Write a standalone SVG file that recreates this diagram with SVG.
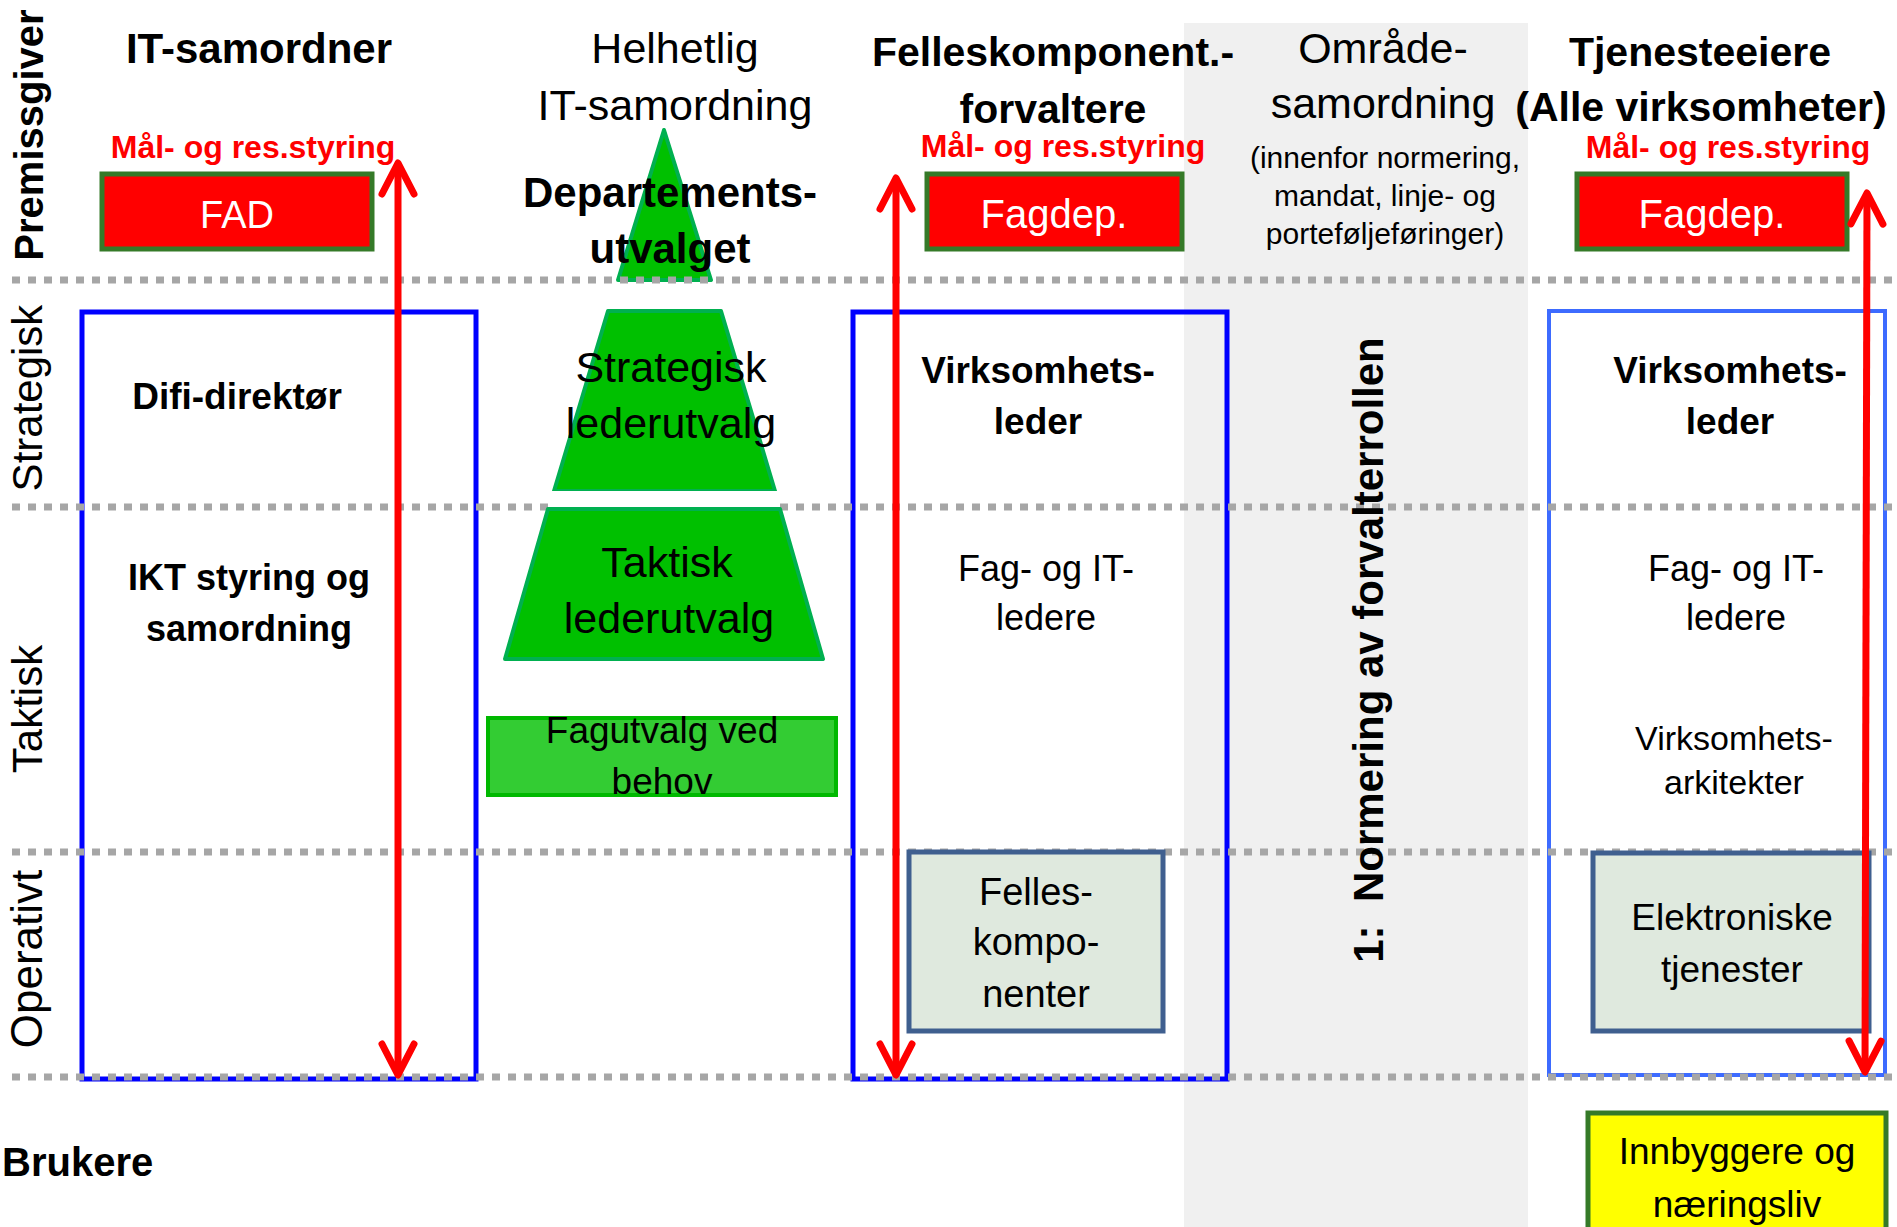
<svg xmlns="http://www.w3.org/2000/svg" width="1897" height="1227" viewBox="0 0 1897 1227">
<style>
text{font-family:"Liberation Sans",Arial,sans-serif;fill:#000}
.b{font-weight:bold}
.c{text-anchor:middle}
.red{fill:#ff0000;font-weight:bold;font-size:32px}
.wt{fill:#ffffff}
.dot{stroke:#a6a6a6;stroke-width:7;stroke-dasharray:8 8;fill:none}
.rbox{fill:#ff0000;stroke:#357a28;stroke-width:5}
.blue{fill:none;stroke:#0000ff;stroke-width:5}
.gbox{fill:#dfe9de;stroke:#3f5f8f;stroke-width:5}
.pyr{fill:#00c000;stroke:#00b050;stroke-width:4;stroke-linejoin:round}
.arr{stroke:#ff0000;stroke-width:7;fill:none;marker-start:url(#chev);marker-end:url(#chev)}
</style>
<defs>
<marker id="chev" markerUnits="userSpaceOnUse" viewBox="-40 -24 48 48" refX="0" refY="0" markerWidth="48" markerHeight="48" orient="auto-start-reverse" overflow="visible">
<path d="M -31 -16 L 0 0 L -31 16" fill="none" stroke="#ff0000" stroke-width="7" stroke-linecap="round" stroke-linejoin="round"/>
</marker>
</defs>
<rect width="1897" height="1227" fill="#ffffff"/>
<rect id="grey-column" x="1184" y="23" width="344" height="1204" fill="#f0f0f0"/>

<g id="row-labels">
<text class="b c" font-size="40" transform="translate(43,135) rotate(-90)">Premissgiver</text>
<text class="c" font-size="42" transform="translate(42,398) rotate(-90)">Strategisk</text>
<text class="c" font-size="42" transform="translate(42,709) rotate(-90)">Taktisk</text>
<text class="c" font-size="44" transform="translate(42,959) rotate(-90)">Operativt</text>
<text class="b" font-size="40" x="2" y="1176">Brukere</text>
</g>

<g id="blue-boxes">
<rect id="box-left" class="blue" x="82" y="312" width="394" height="767"/>
<rect id="box-middle" class="blue" x="853" y="312" width="374" height="767"/>
<rect id="box-right" class="blue" style="stroke:#3d6bff;stroke-width:4" x="1549" y="311" width="336" height="764"/>
</g>

<g id="col-it-samordner">
<text class="b c" font-size="42" x="259" y="63">IT-samordner</text>
<text class="red c" x="253" y="158">Mål- og res.styring</text>
<g id="node-fad"><rect class="rbox" x="102" y="174" width="270" height="75"/><text class="wt c" font-size="38" x="237" y="228">FAD</text></g>
<text class="b c" font-size="37" x="237" y="409">Difi-direktør</text>
<text class="b c" font-size="36" x="249" y="590">IKT styring og</text>
<text class="b c" font-size="36" x="249" y="641">samordning</text>
</g>

<g id="col-helhetlig">
<text class="c" font-size="43" x="675" y="63">Helhetlig</text>
<text class="c" font-size="43" x="675" y="120">IT-samordning</text>
<g id="node-departementsutvalget">
<polygon class="pyr" points="664,130 711,280 618,280"/>
<text class="b c" font-size="42" x="670" y="207">Departements-</text>
<text class="b c" font-size="42" x="670" y="263">utvalget</text>
</g>
<g id="node-strategisk-lederutvalg">
<polygon class="pyr" points="608,311 721,311 775,491 554,491"/>
<text class="c" font-size="43" x="671" y="382">Strategisk</text>
<text class="c" font-size="43" x="671" y="438">lederutvalg</text>
</g>
</g>

<g id="dotted-lines">
<line class="dot" x1="12" y1="280" x2="1897" y2="280"/>
<line class="dot" x1="12" y1="507" x2="1897" y2="507"/>
<line class="dot" x1="12" y1="852" x2="1897" y2="852"/>
<line class="dot" x1="12" y1="1077" x2="1897" y2="1077"/>
</g>

<g id="node-taktisk-lederutvalg">
<rect x="548" y="491" width="232" height="17" fill="#ffffff"/>
<polygon class="pyr" points="548,509 780,509 823,659 505,659"/>
<text class="c" font-size="43" x="667" y="577">Taktisk</text>
<text class="c" font-size="43" x="669" y="633">lederutvalg</text>
</g>
<g id="node-fagutvalg">
<rect x="488" y="718" width="348" height="77" fill="#33cc33" stroke="#00b800" stroke-width="4"/>
<text class="c" font-size="37" x="662" y="743">Fagutvalg ved</text>
<text class="c" font-size="37" x="662" y="794">behov</text>
</g>

<g id="col-felleskomponent">
<text class="b c" font-size="41" x="1053" y="66">Felleskomponent.-</text>
<text class="b c" font-size="41" x="1053" y="123">forvaltere</text>
<text class="red c" x="1063" y="157">Mål- og res.styring</text>
<g id="node-fagdep-1"><rect class="rbox" x="927" y="174" width="255" height="75"/><text class="wt c" font-size="40" x="1054" y="228">Fagdep.</text></g>
<text class="b c" font-size="37" x="1038" y="383">Virksomhets-</text>
<text class="b c" font-size="37" x="1038" y="434">leder</text>
<text class="c" font-size="36" x="1046" y="581">Fag- og IT-</text>
<text class="c" font-size="36" x="1046" y="630">ledere</text>
<g id="node-felleskomponenter">
<rect class="gbox" x="909" y="852" width="254" height="179"/>
<text class="c" font-size="38" x="1036" y="905">Felles-</text>
<text class="c" font-size="38" x="1036" y="955">kompo-</text>
<text class="c" font-size="38" x="1036" y="1007">nenter</text>
</g>
</g>

<g id="col-omrade">
<text class="c" font-size="43" x="1383" y="63">Område-</text>
<text class="c" font-size="43" x="1383" y="118">samordning</text>
<text class="c" font-size="30" x="1385" y="168">(innenfor normering,</text>
<text class="c" font-size="30" x="1385" y="206">mandat, linje- og</text>
<text class="c" font-size="30" x="1385" y="244">porteføljeføringer)</text>
<text class="b c" font-size="42" xml:space="preserve" transform="translate(1383,650) rotate(-90)">1:  Normering av forvalterrollen</text>
</g>

<g id="col-tjenesteeiere">
<text class="b c" font-size="41" x="1700" y="66">Tjenesteeiere</text>
<text class="b c" font-size="41" x="1701" y="121">(Alle virksomheter)</text>
<text class="red c" x="1728" y="158">Mål- og res.styring</text>
<g id="node-fagdep-2"><rect class="rbox" x="1577" y="174" width="270" height="75"/><text class="wt c" font-size="40" x="1712" y="228">Fagdep.</text></g>
<text class="b c" font-size="37" x="1730" y="383">Virksomhets-</text>
<text class="b c" font-size="37" x="1730" y="434">leder</text>
<text class="c" font-size="36" x="1736" y="581">Fag- og IT-</text>
<text class="c" font-size="36" x="1736" y="630">ledere</text>
<text class="c" font-size="34" x="1734" y="750">Virksomhets-</text>
<text class="c" font-size="34" x="1734" y="794">arkitekter</text>
<g id="node-elektroniske">
<rect class="gbox" x="1593" y="853" width="276" height="178"/>
<text class="c" font-size="37" x="1732" y="930">Elektroniske</text>
<text class="c" font-size="37" x="1732" y="982">tjenester</text>
</g>
<g id="node-innbyggere">
<rect x="1588" y="1113" width="298" height="130" fill="#ffff00" stroke="#357a28" stroke-width="5"/>
<text class="c" font-size="37" x="1737" y="1164">Innbyggere og</text>
<text class="c" font-size="37" x="1737" y="1217">næringsliv</text>
</g>
</g>

<g id="connectors">
<line class="arr" x1="398" y1="163" x2="398" y2="1075"/>
<line class="arr" x1="896" y1="178" x2="896" y2="1075"/>
<line class="arr" x1="1867" y1="193" x2="1865" y2="1072"/>
</g>
</svg>
